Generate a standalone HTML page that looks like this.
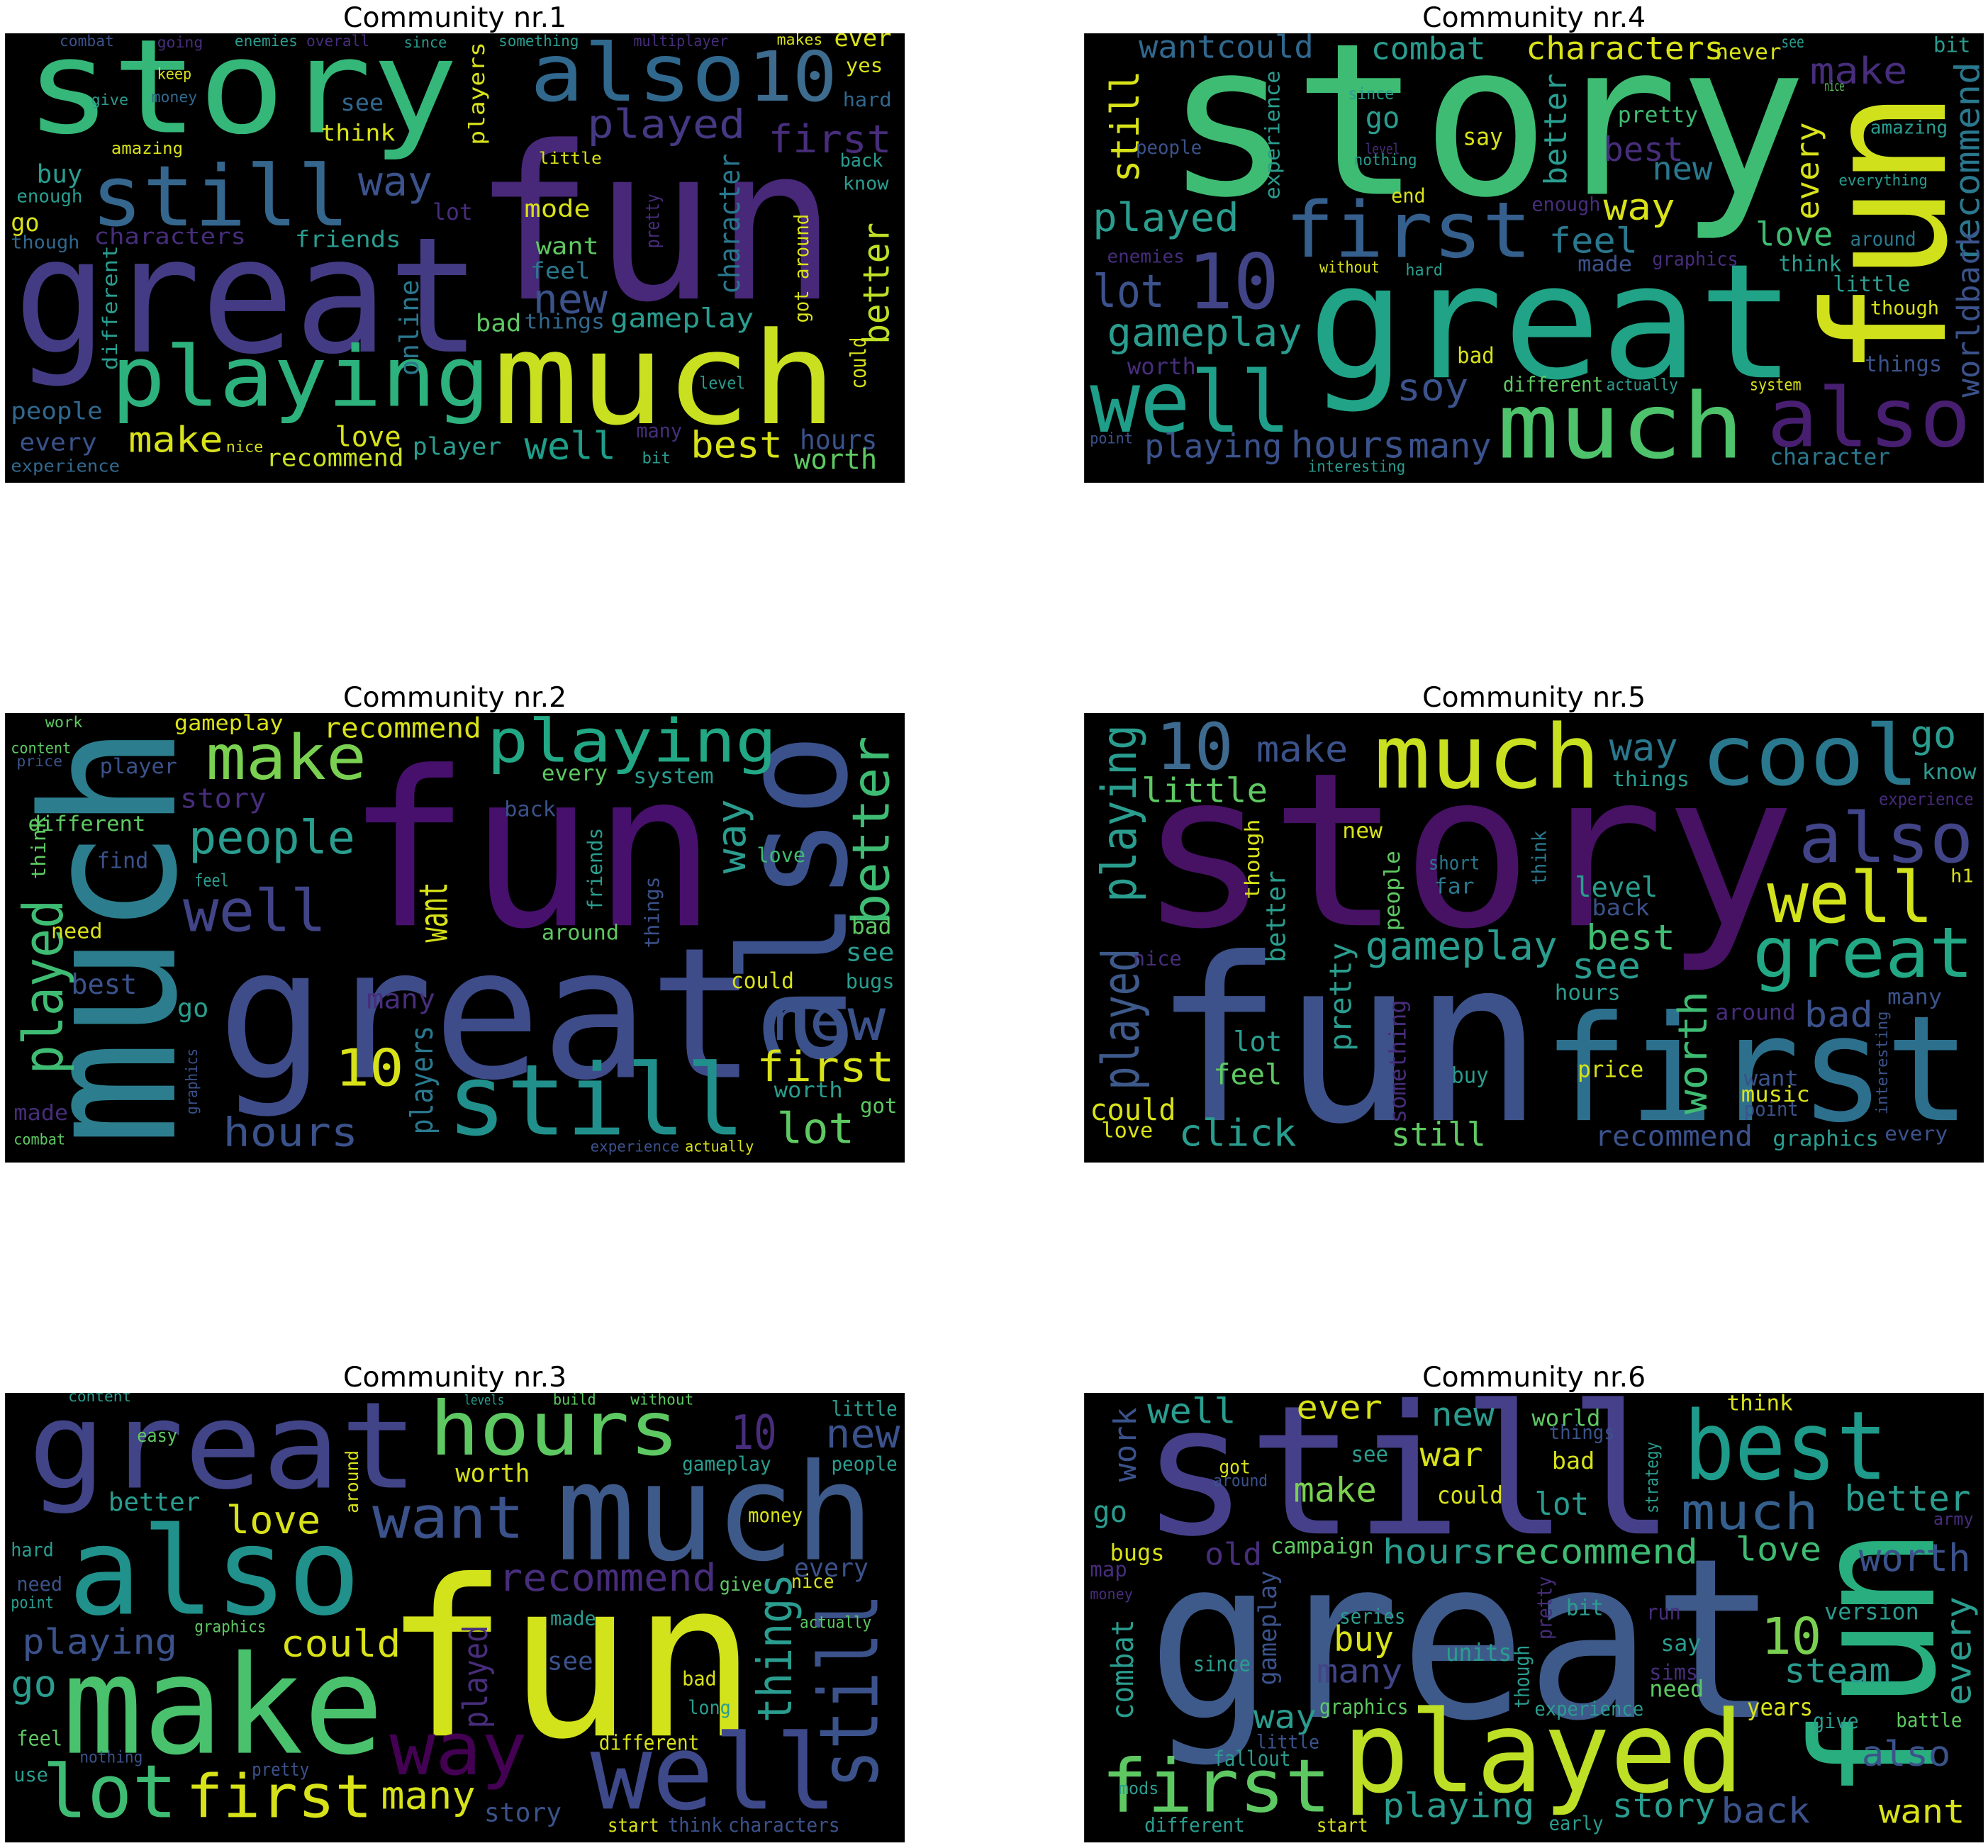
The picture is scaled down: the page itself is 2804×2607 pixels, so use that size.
<!DOCTYPE html>
<html><head><meta charset="utf-8"><title>Community word clouds</title>
<style>
html,body{margin:0;padding:0;background:#fff;}
svg{display:block;}
.t{font-family:"DejaVu Sans","Liberation Sans",sans-serif;fill:#000;}
.w{font-family:"DejaVu Sans Mono","Liberation Mono",monospace;}
</style></head>
<body>
<svg id="fig" xmlns="http://www.w3.org/2000/svg" width="2804" height="2607" viewBox="0 0 1568 1458">
<rect x="0" y="0" width="1568" height="1458" fill="#fff"/>
</svg>
<script>
// word entries in panel-relative units (0..1568 each axis):
// horizontal: [word, xStart, xEnd, baseline, size, color]
// vertical:   [word, yBottom, yTop, baselineX, size, color, 1]
const community1Words = [
["fun",815,1450,925,177,"#482878"],["story",35,790,345,92,"#35b779"],["great",15,830,1110,130,"#433c84"],
["much",850,1450,1360,88,"#c8e020"],["playing",185,845,1300,60,"#2db27d"],["still",150,600,670,65,"#35668d"],
["also",915,1290,235,55,"#31688e"],["10",1295,1450,235,50,"#3d6c8e"],["played",1015,1290,365,28,"#443983"],
["first",1330,1545,415,28,"#472d7b"],["way",615,745,565,31,"#3b528b"],["character",910,420,1280,24,"#2a788e",1],
["better",1085,660,1540,30,"#bddf26",1],["gameplay",1055,1305,1025,18,"#2a9d8f"],["new",920,1050,975,31,"#3b528b"],
["mode",905,1020,640,16,"#d8e219"],["want",925,1035,770,16,"#5ec962"],["feel",915,1020,855,16,"#2a788e"],
["friends",505,690,745,16,"#2a9d8f"],["characters",155,420,735,15,"#472d7b"],["think",550,680,375,16,"#d8e219"],
["see",585,660,270,18,"#31688e"],["buy",55,135,520,20,"#2a9d8f"],["amazing",185,310,420,12,"#d8e219"],
["players",390,30,835,14,"#d8e219",1],["little",930,1040,455,12,"#d8e219"],["ever",1445,1545,45,18,"#d8e219"],
["hard",1460,1545,255,15,"#31688e"],["yes",1465,1530,135,14,"#d8e219"],["back",1455,1530,465,15,"#2a9d8f"],
["know",1460,1540,545,14,"#2a9d8f"],["lot",745,815,650,18,"#472d7b"],["online",1195,860,720,20,"#2a788e",1],
["different",1175,740,195,14,"#2a9d8f",1],["bad",820,900,1040,18,"#5ec962"],["things",905,1045,1030,15,"#31688e"],
["level",1210,1290,1240,15,"#2a9d8f"],["could",1240,1060,1500,20,"#d8e219",1],["people",10,170,1345,17,"#31688e"],
["every",25,160,1455,17,"#3b528b"],["experience",10,200,1530,12,"#31688e"],["make",215,380,1460,25,"#d8e219"],
["nice",385,450,1460,12,"#d8e219"],["love",575,690,1440,22,"#d8e219"],["recommend",455,695,1510,18,"#c8e020"],
["player",710,865,1470,18,"#2a9d8f"],["well",905,1065,1485,30,"#1f9e89"],["many",1100,1180,1410,16,"#472d7b"],
["best",1195,1355,1480,28,"#d8e219"],["bit",1110,1160,1500,12,"#2a9d8f"],["hours",1385,1520,1450,22,"#3b528b"],
["worth",1375,1520,1520,22,"#5ec962"],["go",10,60,690,20,"#d8e219"],["enough",20,135,590,14,"#2a9d8f"],
["though",10,130,750,14,"#31688e"],["combat",95,190,45,12,"#3b528b"],["going",265,345,50,12,"#472d7b"],
["enemies",400,510,45,12,"#2a9d8f"],["overall",525,635,45,12,"#472d7b"],["something",860,1000,45,12,"#2a9d8f"],
["multiplayer",1095,1260,45,12,"#472d7b"],["since",695,770,50,12,"#2a9d8f"],["makes",1345,1425,40,12,"#d8e219"],
["money",255,335,240,12,"#31688e"],["keep",265,325,160,12,"#d8e219"],["give",150,215,250,12,"#2a9d8f"],
["pretty",750,560,1140,18,"#472d7b",1],["got around",1010,630,1400,16,"#d8e219",1]
];
const community2Words = [
["fun",595,1240,740,178,"#46106c"],["great",370,1310,1270,145,"#3e4c8a"],["much",1510,40,295,152,"#2c7e8e",1],
["also",1240,70,1465,122,"#3b518b",1],["still",770,1290,1470,77,"#21908c"],["playing",840,1345,170,39,"#22a884"],
["make",350,630,230,45,"#7ad151"],["people",320,610,490,36,"#2a9d8f"],["well",310,560,760,45,"#414487"],
["want",800,590,770,42,"#d8e219",1],["way",560,300,1290,30,"#2a9d8f",1],["better",740,80,1540,39,"#3fbc73",1],
["new",1335,1535,1140,41,"#3b528b"],["first",1310,1550,1285,30,"#d8e219"],["lot",1345,1480,1500,33,"#5ec962"],
["10",575,695,1300,36,"#d8e219"],["hours",380,615,1510,27,"#3b528b"],["played",1260,650,100,48,"#3fbc73",1],
["recommend",555,830,85,21,"#d8e219"],["gameplay",295,485,60,15,"#d8e219"],["story",305,455,330,20,"#472d7b"],
["many",630,750,1030,20,"#472d7b"],["players",1470,1090,745,28,"#2a788e",1],["best",115,230,980,22,"#3b528b"],
["go",300,355,1060,20,"#2a9d8f"],["different",40,245,410,16,"#5ec962"],["find",160,250,540,18,"#3b528b"],
["see",1465,1550,865,18,"#2a9d8f"],["bugs",1465,1550,960,16,"#2a9d8f"],["bad",1475,1545,770,18,"#5ec962"],
["could",1265,1375,960,18,"#d8e219"],["things",820,570,1140,16,"#3b528b",1],["friends",690,400,1040,16,"#2a9d8f",1],
["player",165,300,210,16,"#3b528b"],["system",1095,1235,245,16,"#2a9d8f"],["feel",330,390,605,16,"#2a9d8f"],
["need",80,170,785,16,"#d8e219"],["around",935,1070,790,16,"#5ec962"],["worth",1340,1460,1340,16,"#2a9d8f"],
["think",580,360,70,14,"#5ec962",1],["got",1490,1555,1395,16,"#5ec962"],["made",15,110,1420,16,"#472d7b"],
["every",935,1050,235,16,"#5ec962"],["back",870,960,360,16,"#3b528b"],["love",1310,1395,520,16,"#3fbc73"],
["graphics",1400,1170,335,14,"#3b528b",1],["actually",1185,1305,1530,12,"#d8e219"],["experience",1020,1175,1530,12,"#3b528b"],
["combat",15,105,1505,12,"#5ec962"],["content",10,115,140,12,"#5ec962"],["price",20,100,185,12,"#3b528b"],
["work",70,135,50,12,"#5ec962"]
];
const community3Words = [
["fun",660,1310,1195,180,"#d2e21b"],["great",40,720,330,87,"#414487"],["hours",740,1175,215,52,"#5ec962"],
["much",960,1515,580,107,"#3e5a8a"],["also",110,620,770,95,"#21918c"],["make",100,660,1255,109,"#4ac16d"],
["well",1020,1450,1450,83,"#3e4989"],["way",670,910,1330,54,"#440154"],["lot",65,300,1480,57,"#3fbc73"],
["first",315,640,1480,45,"#d8e219"],["many",655,820,1450,30,"#d8e219"],["want",640,905,505,42,"#3b528b"],
["recommend",860,1240,690,28,"#472d7b"],["could",480,690,920,27,"#d8e219"],["playing",30,300,910,26,"#3b528b"],
["love",385,550,490,30,"#d8e219"],["10",1265,1345,195,45,"#472d7b"],["new",1430,1560,190,30,"#3b528b"],
["little",1440,1555,80,18,"#2a9d8f"],["still",1380,700,1520,77,"#3b528b",1],["things",1150,630,1370,42,"#2a9d8f",1],
["played",1170,810,840,30,"#472d7b",1],["worth",785,915,310,20,"#d8e219"],["better",180,340,410,20,"#2a9d8f"],
["go",10,90,1060,28,"#2a9d8f"],["story",835,970,1495,20,"#3b528b"],["different",1035,1210,1245,18,"#d8e219"],
["see",945,1025,965,20,"#3b528b"],["every",1375,1505,640,20,"#3b528b"],["easy",230,300,170,16,"#5ec962"],
["people",1440,1555,270,16,"#2a9d8f"],["gameplay",1180,1335,270,16,"#2a9d8f"],["feel",20,100,1230,18,"#5ec962"],
["use",15,75,1355,16,"#2a9d8f"],["bad",1180,1240,1020,16,"#d8e219"],["long",1190,1265,1120,16,"#2a9d8f"],
["money",1295,1390,450,16,"#d8e219"],["give",1245,1320,690,16,"#5ec962"],["nice",1370,1445,680,16,"#d8e219"],
["made",950,1030,810,16,"#2a9d8f"],["start",1050,1140,1530,16,"#d8e219"],["think",1155,1250,1530,16,"#3b528b"],
["characters",1260,1455,1530,16,"#3b528b"],["around",420,200,615,14,"#d8e219",1],["pretty",430,530,1335,16,"#3b528b"],
["graphics",330,455,835,14,"#5ec962"],["content",110,220,30,12,"#2a9d8f"],["build",955,1030,40,12,"#5ec962"],
["without",1090,1200,40,12,"#5ec962"],["levels",800,870,40,12,"#2a9d8f"],["hard",10,85,570,16,"#2a9d8f"],
["need",20,100,690,16,"#3b528b"],["point",10,85,750,14,"#2a9d8f"],["nothing",130,240,1290,14,"#3b528b"],
["actually",1385,1510,820,14,"#5ec962"]
];
const community4Words = [
["story",140,1260,560,165,"#3fbc73"],["great",390,1240,1200,123,"#20a386"],["fun",1200,200,1500,140,"#d0e11c",1],
["first",350,780,780,57,"#355f8d"],["much",720,1150,1480,62,"#4ec36b"],["also",1190,1545,1440,62,"#481f70"],
["well",10,360,1390,68,"#1f9e89"],["10",180,340,960,60,"#414487"],["lot",15,140,955,40,"#3b528b"],
["gameplay",40,380,1090,30,"#2a9d8f"],["played",15,270,690,30,"#2a9d8f"],["still",520,130,95,32,"#d8e219",1],
["wantcould",95,400,85,24,"#31688e"],["combat",500,700,90,24,"#2a9d8f"],["characters",770,1115,90,24,"#d8e219"],
["playing",105,345,1480,26,"#3b528b"],["hours",360,560,1480,28,"#3b528b"],["many",565,710,1480,26,"#3b528b"],
["soy",545,670,1280,28,"#3b528b"],["feel",810,965,765,26,"#2a788e"],["way",905,1030,650,26,"#d8e219"],
["best",905,1045,445,26,"#472d7b"],["new",990,1095,510,24,"#2a788e"],["better",530,140,840,24,"#2a9d8f",1],
["love",1170,1305,740,26,"#3fbc73"],["make",1265,1435,175,26,"#472d7b"],["recommend",800,100,1560,24,"#2a788e",1],
["worldback",1270,680,1560,24,"#3b528b",1],["every",650,310,1280,24,"#d8e219",1],["amazing",1370,1505,350,14,"#2a9d8f"],
["pretty",930,1070,310,17,"#3fbc73"],["go",490,550,330,24,"#2a9d8f"],["say",660,730,390,20,"#d8e219"],
["bad",650,715,1150,18,"#d8e219"],["different",730,905,1250,18,"#5ec962"],["character",1195,1405,1505,18,"#2a788e"],
["little",1305,1440,900,17,"#2a9d8f"],["things",1360,1495,1180,18,"#3b528b"],["though",1370,1490,980,15,"#d8e219"],
["around",1335,1450,740,16,"#2a788e"],["think",1210,1320,830,18,"#2a9d8f"],["experience",580,130,340,15,"#2a9d8f",1],
["people",90,205,420,15,"#3b528b"],["enemies",40,175,800,14,"#472d7b"],["graphics",990,1140,810,16,"#472d7b"],
["made",860,955,830,16,"#3b528b"],["enough",780,900,620,16,"#472d7b"],["end",535,595,590,16,"#d8e219"],
["since",460,540,230,14,"#2a9d8f"],["see",1215,1255,50,16,"#2a9d8f"],["never",1100,1215,90,16,"#d8e219"],
["bit",1480,1545,65,16,"#2a9d8f"],["nice",1290,1325,200,14,"#5ec962"],["everything",1315,1470,530,12,"#2a9d8f"],
["interesting",390,560,1530,13,"#2a9d8f"],["actually",910,1035,1245,14,"#2a9d8f"],["system",1160,1250,1245,14,"#d8e219"],
["point",10,85,1430,12,"#3b528b"],["worth",75,195,1190,18,"#472d7b"],["without",410,515,835,13,"#d8e219"],
["hard",560,625,845,14,"#2a9d8f"],["level",490,550,420,14,"#472d7b"],["nothing",470,580,460,13,"#2a9d8f"]
];
const community5Words = [
["story",95,1240,740,165,"#471164"],["fun",120,800,1420,187,"#3d528a"],["first",800,1545,1420,119,"#2d708e"],
["much",505,900,260,65,"#c8e020"],["cool",1075,1455,250,60,"#2a788e"],["great",1165,1550,920,52,"#22a884"],
["also",1245,1550,520,51,"#414487"],["well",1190,1480,730,57,"#d2e21b"],["10",125,260,195,51,"#3e6a8f"],
["make",300,460,170,27,"#3b528b"],["way",915,1035,165,30,"#2a788e"],["go",1440,1520,120,30,"#2a9d8f"],
["little",100,320,310,25,"#5ec962"],["playing",660,40,90,42,"#2a9d8f",1],["played",1315,820,95,50,"#3e5a8a",1],
["gameplay",490,825,860,30,"#2a9d8f"],["best",875,1030,825,26,"#3fbc73"],["see",850,970,925,26,"#2a9d8f"],
["click",165,370,1510,28,"#2a9d8f"],["still",535,700,1510,27,"#5ec962"],["recommend",890,1165,1510,22,"#3b528b"],
["could",10,160,1420,24,"#d8e219"],["bad",1255,1375,1095,26,"#3b528b"],["worth",1400,970,1085,30,"#3fbc73",1],
["level",855,1000,640,22,"#2a9d8f"],["feel",225,345,1295,22,"#5ec962"],["lot",260,345,1180,22,"#2a9d8f"],
["better",870,550,350,22,"#2a9d8f",1],["pretty",1180,800,465,24,"#2a9d8f",1],["price",860,975,1270,18,"#d8e219"],
["graphics",1200,1385,1510,16,"#2a9d8f"],["things",920,1055,255,16,"#2a9d8f"],["hours",820,935,1000,16,"#2a9d8f"],
["around",1100,1240,1070,16,"#472d7b"],["buy",640,705,1290,18,"#2a9d8f"],["know",1460,1555,230,16,"#2a9d8f"],
["something",1430,1000,560,18,"#472d7b",1],["think",600,410,805,16,"#2a788e",1],["people",760,480,550,16,"#5ec962",1],
["though",650,370,305,14,"#d8e219",1],["short",600,690,545,16,"#2a788e"],["far",610,680,630,16,"#2a788e"],
["back",885,985,705,16,"#3b528b"],["want",1150,1245,1300,16,"#3b528b"],["music",1145,1265,1355,16,"#d8e219"],
["love",30,120,1480,16,"#d8e219"],["new",450,520,435,16,"#d8e219"],["nice",85,170,880,16,"#472d7b"],
["experience",1385,1550,320,14,"#472d7b"],["interesting",1400,1040,1400,12,"#3b528b",1],["every",1395,1505,1490,14,"#3b528b"],
["point",1150,1245,1405,16,"#3b528b"],["many",1400,1495,1015,16,"#3b528b"],["h1",1510,1550,590,14,"#d8e219"]
];
const community6Words = [
["great",110,1210,1130,185,"#3e5a8b"],["still",100,1030,490,143,"#46408a"],["best",1045,1400,300,83,"#1e9b8a"],
["fun",1420,470,1480,146,"#29af7f",1],["played",450,1150,1390,90,"#bddf26"],["first",30,430,1460,55,"#5ec962"],
["much",1040,1280,475,34,"#35608d"],["better",1325,1545,410,28,"#2a9d8f"],["worth",1350,1545,620,30,"#3b528b"],
["recommend",710,1070,595,24,"#3fbc73"],["hours",520,715,595,24,"#2a9d8f"],["love",1135,1285,585,24,"#3fbc73"],
["well",110,265,105,26,"#2a9d8f"],["ever",370,520,90,24,"#d8e219"],["new",605,715,115,24,"#2a9d8f"],
["war",585,695,255,24,"#d8e219"],["make",365,510,380,26,"#7ad151"],["lot",785,880,425,26,"#2a9d8f"],
["10",1180,1285,910,40,"#7ad151"],["steam",1220,1405,1010,26,"#2a9d8f"],["also",1355,1510,1300,26,"#3b528b"],
["want",1385,1535,1500,24,"#d8e219"],["back",1110,1265,1500,26,"#3b528b"],["story",920,1100,1480,26,"#2a9d8f"],
["playing",520,785,1480,24,"#2a9d8f"],["buy",435,540,900,28,"#d8e219"],["many",405,555,1010,24,"#414487"],
["combat",1140,790,85,26,"#2a9d8f",1],["old",210,310,600,24,"#472d7b"],["way",295,405,1170,24,"#2a9d8f"],
["every",1090,710,1545,26,"#2a9d8f",1],["work",310,50,90,24,"#3b528b",1],["campaign",325,505,560,18,"#5ec962"],
["could",615,730,385,20,"#d8e219"],["bad",815,890,265,18,"#d8e219"],["series",445,560,805,18,"#2a9d8f"],
["units",630,745,935,20,"#2a9d8f"],["graphics",410,565,1120,18,"#5ec962"],["need",985,1080,1060,18,"#5ec962"],
["version",1290,1455,790,18,"#2a9d8f"],["think",1120,1235,60,16,"#d8e219"],["bugs",45,140,585,18,"#d8e219"],
["go",15,75,450,24,"#2a9d8f"],["see",465,530,240,18,"#2a9d8f"],["world",780,900,115,18,"#5ec962"],
["things",810,925,160,16,"#3b528b"],["since",190,290,970,18,"#2a9d8f"],["fallout",225,360,1300,18,"#2a9d8f"],
["little",300,410,1240,16,"#3b528b"],["mods",60,130,1400,14,"#2a9d8f"],["different",105,280,1530,16,"#2a9d8f"],
["start",405,495,1530,16,"#d8e219"],["early",810,905,1525,16,"#2a9d8f"],["experience",785,975,1125,16,"#2a9d8f"],
["years",1155,1270,1125,20,"#d8e219"],["battle",1415,1530,1165,16,"#5ec962"],["strategy",420,170,1000,16,"#2a9d8f",1],
["gameplay",1020,620,335,20,"#3b528b",1],["though",1100,880,775,18,"#2a9d8f",1],["pretty",860,640,815,18,"#472d7b",1],
["say",1005,1075,900,18,"#2a9d8f"],["sims",985,1070,1000,18,"#472d7b"],["bit",840,905,775,18,"#2a9d8f"],
["run",980,1040,790,18,"#472d7b"],["give",1270,1350,1170,18,"#2a9d8f"],["army",1480,1550,460,14,"#472d7b"],
["got",235,290,280,16,"#d8e219"],["around",225,320,325,14,"#3b528b"],["map",10,75,640,16,"#472d7b"],
["money",10,85,720,12,"#472d7b"]
];
const titles = ["Community nr.1","Community nr.2","Community nr.3","Community nr.4","Community nr.5","Community nr.6"];

const NS = "http://www.w3.org/2000/svg";
const svg = document.getElementById('fig');
const colX = [3.9, 855.1], rowY = [26.3, 562.6, 1099], PW = 709.7, PH = 354.6;
const SX = PW / 1568, SY = PH / 1568;
const panels = [
 {words: community1Words, c:0, r:0, n:1}, {words: community2Words, c:0, r:1, n:2}, {words: community3Words, c:0, r:2, n:3},
 {words: community4Words, c:1, r:0, n:4}, {words: community5Words, c:1, r:1, n:5}, {words: community6Words, c:1, r:2, n:6}
];
panels.forEach(function(p, i){
  const x0 = colX[p.c], y0 = rowY[p.r];
  const g = document.createElementNS(NS,'g');
  
  
  const cp = document.createElementNS(NS,'clipPath');
  cp.setAttribute('id','clip'+i);
  const cr = document.createElementNS(NS,'rect');
  cr.setAttribute('x',x0); cr.setAttribute('y',y0); cr.setAttribute('width',PW); cr.setAttribute('height',PH);
  cp.appendChild(cr); svg.appendChild(cp);
  const bg = document.createElementNS(NS,'rect');
  bg.setAttribute('x',x0); bg.setAttribute('y',y0); bg.setAttribute('width',PW); bg.setAttribute('height',PH);
  bg.setAttribute('fill','#000');
  
  
  g.appendChild(bg);
  const inner = document.createElementNS(NS,'g');
  inner.setAttribute('clip-path','url(#clip'+i+')');
  p.words.forEach(function(w){
    const vert = w[6] === 1;
    const t = document.createElementNS(NS,'text');
    
    
    t.setAttribute('class','w');
    let len, fs;
    if (vert) {
      len = (w[1] - w[2]) * SY;
      const bx = x0 + w[3] * SX, by = y0 + w[1] * SY;
      t.setAttribute('transform','translate(' + bx + ',' + by + ') rotate(-90)');
      t.setAttribute('x',0); t.setAttribute('y',0);
    } else {
      len = (w[2] - w[1]) * SX;
      t.setAttribute('x', x0 + w[1] * SX);
      t.setAttribute('y', y0 + w[3] * SY);
    }
    fs = 0.5 * (w[4] + len / (0.6 * w[0].length));
    t.setAttribute('font-size', fs.toFixed(1));
    t.setAttribute('fill', w[5]);
    t.setAttribute('textLength', len.toFixed(1));
    t.setAttribute('lengthAdjust','spacingAndGlyphs');
    t.textContent = w[0];
    inner.appendChild(t);
  });
  g.appendChild(inner);
  const tt = document.createElementNS(NS,'text');
  
  
  tt.setAttribute('class','t');
  tt.setAttribute('x', x0 + PW/2);
  tt.setAttribute('y', y0 - 5);
  tt.setAttribute('text-anchor','middle');
  tt.setAttribute('font-size', 22);
  tt.textContent = titles[p.n - 1];
  g.appendChild(tt);
  svg.appendChild(g);
});
</script>
</body></html>
